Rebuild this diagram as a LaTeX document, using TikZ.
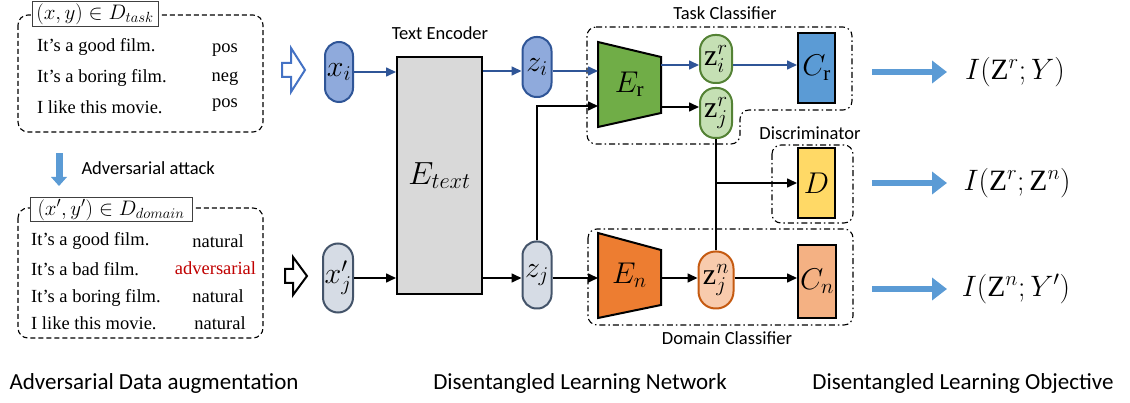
\RequirePackage{fix-cm}
\documentclass[tikz,border=0pt]{standalone}
\usepackage{fontspec}
\setmainfont{Liberation Serif}
\newfontfamily\calibri{Carlito}
\usetikzlibrary{arrows.meta,calc}
\definecolor{xblue}{HTML}{8FAADC}
\definecolor{xblueb}{HTML}{2F5597}
\definecolor{xgray}{HTML}{D6DCE5}
\definecolor{xgrayb}{HTML}{44546A}
\definecolor{encgray}{HTML}{D9D9D9}
\definecolor{ergreen}{HTML}{70AD47}
\definecolor{zrgreen}{HTML}{C5E0B4}
\definecolor{zrgreenb}{HTML}{548235}
\definecolor{crblue}{HTML}{5B9BD5}
\definecolor{dyellow}{HTML}{FFD966}
\definecolor{enorange}{HTML}{ED7D31}
\definecolor{znorange}{HTML}{F8CBAD}
\definecolor{znorangeb}{HTML}{C55A11}
\definecolor{cnorange}{HTML}{F4B183}
\definecolor{hollowblue}{HTML}{4472C4}
\definecolor{advred}{HTML}{C00000}
\definecolor{objblue}{HTML}{5B9BD5}
\begin{document}
\begin{tikzpicture}[x=1pt,y=-1pt,
  mathf/.style={font=\fontsize{30}{34}\selectfont},
  lab/.style={font=\calibri\fontsize{18.5}{21}\selectfont},
  biglab/.style={font=\calibri\fontsize{23}{27}\selectfont},
  sent/.style={font=\fontsize{18.5}{21}\selectfont, inner sep=0pt},
  pill/.style={draw, line width=2pt, inner sep=0pt, mathf},
  blockbox/.style={draw, line width=2pt, inner sep=0pt, mathf},
  arr/.style={line width=1.6pt, -{Triangle[length=10pt,width=9pt]}},
  bluearr/.style={arr, draw=xblueb},
  dashbox/.style={draw, line width=1.1pt, dashed, dash pattern=on 5pt off 3pt, rounded corners=10pt},
  ddbox/.style={draw, line width=1.1pt, dash pattern=on 6pt off 3pt on 1.5pt off 3pt, rounded corners=9pt},
  titlebox/.style={draw=black!75, fill=white, line width=1pt, inner sep=1pt, font=\fontsize{21}{24}\selectfont},
  objarr/.style={draw=objblue, line width=6pt, -{Triangle[length=15pt,width=22pt]}},
  objtext/.style={font=\fontsize{29.5}{33}\selectfont, inner sep=0pt}
]
\useasboundingbox (0,0) rectangle (1130,403);

% ---------------- left: data ----------------
\draw[dashbox] (18,15) rectangle (263,132);
\node[titlebox, minimum width=126pt, minimum height=25pt] (t1) at (95,14.5) {$(x,y)\in D_{task}$};
\node[sent, anchor=west] (s1) at (37,47) {It’s a good film.};
\node[sent, anchor=west] (s2) at (37,78) {It’s a boring film.};
\node[sent, anchor=west] (s3) at (37,107) {I like this movie.};
\node[sent] (l1) at (225,50) {pos};
\node[sent] (l2) at (225,79) {neg};
\node[sent] (l3) at (225,105) {pos};

% adversarial attack arrow
\fill[crblue] (55.5,153) rectangle (62.5,177);
\fill[crblue] (51,177) -- (67,177) -- (59,186) -- cycle;
\node[lab, anchor=west] (adv) at (78,168) {Adversarial attack};

\draw[dashbox] (18,208) rectangle (263,338);
\node[titlebox, minimum width=162pt, minimum height=24pt] (t2) at (111,210) {$(x',y')\in D_{domain}$};
\node[sent, anchor=west] (b1) at (31,241) {It’s a good film.};
\node[sent, anchor=west] (b2) at (31,269) {It’s a bad film.};
\node[sent, anchor=west] (b3) at (31,298) {It’s a boring film.};
\node[sent, anchor=west] (b4) at (31,323) {I like this movie.};
\node[sent] (n1) at (218,241) {natural};
\node[sent, text=advred] (n2) at (215.5,268) {adversarial};
\node[sent] (n3) at (218,296) {natural};
\node[sent] (n4) at (220,323) {natural};

% hollow arrows
\draw[hollowblue, line width=2pt, line join=miter]
  (282,63) -- (291,63) -- (291,48) -- (305,70) -- (291,92) -- (291,77) -- (282,77) -- cycle;
\draw[black, line width=2pt, line join=miter]
  (285,269) -- (293,269) -- (293,257) -- (307,276) -- (293,295) -- (293,283) -- (285,283) -- cycle;

% ---------------- middle: network ----------------
\node[pill, fill=xblue, draw=xblueb, minimum width=28pt, minimum height=60pt, rounded corners=14pt] (xi) at (339,72) {$x_i$};
\node[pill, fill=xgray, draw=xgrayb, minimum width=30pt, minimum height=69pt, rounded corners=15pt] (xj) at (338,278) {$x'_j$};
\node[blockbox, fill=encgray, minimum width=85pt, minimum height=237pt, font=\fontsize{32}{36}\selectfont] (Et) at (439.5,175.5) {$E_{text}$};
\node[lab] (telab) at (440,33) {Text Encoder};
\node[pill, fill=xblue, draw=xblueb, minimum width=29pt, minimum height=60pt, rounded corners=14pt] (zi) at (537,67) {$z_i$};
\node[pill, fill=xgray, draw=xgrayb, minimum width=29pt, minimum height=67pt, rounded corners=14pt] (zj) at (537,275) {$z_j$};

% encoders (trapezoids)
\node[minimum width=63pt, minimum height=85pt, inner sep=0pt] (Er) at (629.5,84.5) {};
\draw[fill=ergreen, line width=2pt, line join=miter] (598,42) -- (661,57) -- (661,113) -- (598,127) -- cycle;
\node[mathf] (Ertext) at (Er.center) {$E_{\mathrm{r}}$};
\node[minimum width=63pt, minimum height=85pt, inner sep=0pt] (En) at (629.5,275.5) {};
\draw[fill=enorange, line width=2pt, line join=miter] (598,233) -- (661,250) -- (661,305) -- (598,318) -- cycle;
\node[mathf] (Entext) at (En.center) {$E_{n}$};

% latent codes
\node[pill, fill=zrgreen, draw=zrgreenb, minimum width=32pt, minimum height=48pt, rounded corners=15pt] (zir) at (716,59) {$\mathrm{z}_i^r$};
\node[pill, fill=zrgreen, draw=zrgreenb, minimum width=32pt, minimum height=50pt, rounded corners=15pt] (zjr) at (716,113) {$\mathrm{z}_j^r$};
\node[pill, fill=znorange, draw=znorangeb, minimum width=35pt, minimum height=57pt, rounded corners=17pt] (zjn) at (716,280) {$\mathrm{z}_j^n$};

% classifiers
\node[blockbox, fill=crblue, minimum width=37pt, minimum height=70pt] (Cr) at (816.5,68) {$C_{\mathrm{r}}$};
\node[blockbox, fill=dyellow, minimum width=37pt, minimum height=70pt] (D) at (816.5,183) {$D$};
\node[blockbox, fill=cnorange, minimum width=38pt, minimum height=73pt] (Cn) at (817,281.5) {$C_{n}$};

% dash-dot groups
\draw[ddbox] (587,27) -- (852,27) -- (852,110) -- (740,110) -- (740,144) -- (587,144) -- cycle;
\draw[ddbox] (772,145) rectangle (853,223);
\draw[ddbox] (588,229) rectangle (853,325);
\node[lab] (tclab) at (725,13) {Task Classifier};
\node[lab] (dlab) at (810,133) {Discriminator};
\node[lab] (dclab) at (727,338) {Domain Classifier};

% connectors
\coordinate (c1) at (0,72);
\draw[bluearr] (xi.east |- c1) -- (Et.west |- c1);
\coordinate (c2) at (0,71);
\draw[bluearr] (Et.east |- c2) -- (zi.west |- c2);
\draw[bluearr] (zi.east |- c2) -- (598,71);
\coordinate (c3) at (0,278);
\draw[arr] (xj.east |- c3) -- (Et.west |- c3);
\draw[arr] (Et.east |- c3) -- (zj.west |- c3);
\draw[arr] (zj.east |- c3) -- (598,278);
\coordinate (erin) at (598,106);
\draw[arr] (zj.north) |- (erin);
\coordinate (er1) at (661,65);
\coordinate (er2) at (661,107);
\draw[bluearr] (er1) -- (er1 -| zir.west);
\draw[arr] (er2) -- (er2 -| zjr.west);
\draw[bluearr] (er1 -| zir.east) -- (er1 -| Cr.west);
\coordinate (en1) at (661,278);
\draw[arr] (en1) -- (en1 -| zjn.west);
\draw[arr] (en1 -| zjn.east) -- (en1 -| Cn.west);
\draw[line width=1.6pt] (zjr.south) -- (zjn.north);
\coordinate (br) at (zjr.south |- D.west);
\draw[arr] (br) -- (D.west);

% ---------------- right: objectives ----------------
\node[objtext] (o1) at (1015,72) {$I(\mathrm{Z}^r;Y)$};
\node[objtext] (o2) at (1017,183) {$I(\mathrm{Z}^r;\mathrm{Z}^n)$};
\node[objtext] (o3) at (1016,289) {$I(\mathrm{Z}^n;Y')$};
\coordinate (a1) at (872,72);
\coordinate (a2) at (872,183);
\coordinate (a3) at (872,289);
\draw[objarr] (a1) -- ++(75,0);
\draw[objarr] (a2) -- ++(75,0);
\draw[objarr] (a3) -- ++(75,0);

% bottom captions
\node[biglab] (cap1) at (154,383) {Adversarial Data augmentation};
\node[biglab] (cap2) at (580,383) {Disentangled Learning Network};
\node[biglab] (cap3) at (963,383) {Disentangled Learning Objective};
\end{tikzpicture}
\end{document}
